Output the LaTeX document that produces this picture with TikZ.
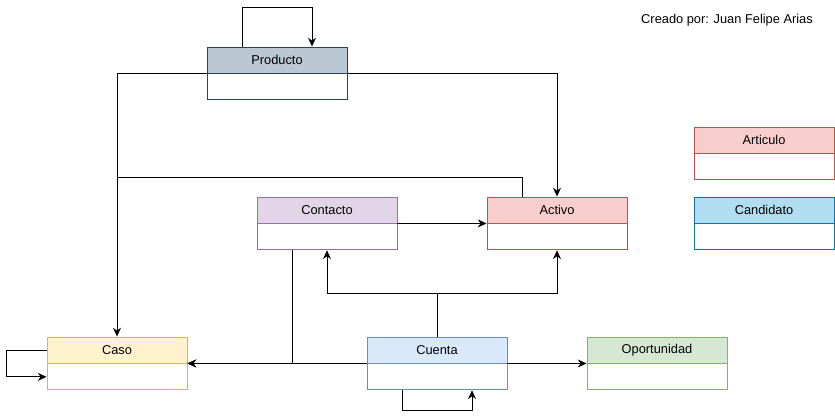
\documentclass[tikz,border=0pt]{standalone}
\usepackage{fontspec}
\setmainfont{Liberation Sans}
\usepackage{xcolor}
\usetikzlibrary{positioning,arrows.meta}

\definecolor{prodfill}{HTML}{BAC8D3}\definecolor{proddraw}{HTML}{23445D}
\definecolor{contfill}{HTML}{E1D5E7}\definecolor{contdraw}{HTML}{9673A6}
\definecolor{actfill}{HTML}{F8CECC}\definecolor{actdraw}{HTML}{B85450}
\definecolor{candfill}{HTML}{B1DDF0}\definecolor{canddraw}{HTML}{10739E}
\definecolor{casofill}{HTML}{FFF2CC}\definecolor{casodraw}{HTML}{D6B656}
\definecolor{ctafill}{HTML}{DAE8FC}\definecolor{ctadraw}{HTML}{6C8EBF}
\definecolor{opofill}{HTML}{D5E8D4}\definecolor{opodraw}{HTML}{82B366}

\begin{document}
\begin{tikzpicture}[x=0.02cm, y=-0.02cm,
    font=\fontsize{7.3}{8.5}\selectfont,
    header/.style={draw=#1draw, fill=#1fill, line width=0.5pt,
        minimum width=2.8cm, minimum height=0.52cm, inner sep=0pt},
    body/.style={draw=#1draw, fill=white, line width=0.5pt,
        minimum width=2.8cm, minimum height=0.52cm, inner sep=0pt},
    arr/.style={line width=0.5pt, -{Stealth[length=5pt,width=4.5pt]}},
    line/.style={line width=0.5pt}]
    \useasboundingbox (0,0) rectangle (835,418);

    \node[header=prod] (prod) at (277,60) {Producto};
    \node[body=prod, below=0pt of prod] (prodb) {};
    \node[header=cont] (cont) at (327,210) {Contacto};
    \node[body=cont, below=0pt of cont] (contb) {};
    \node[header=act] (act) at (557,210) {Activo};
    \node[body=act, below=0pt of act] (actb) {};
    \node[header=act] (art) at (764,140) {Articulo};
    \node[body=act, below=0pt of art] (artb) {};
    \node[header=cand] (cand) at (764,210) {Candidato};
    \node[body=cand, below=0pt of cand] (candb) {};
    \node[header=caso] (caso) at (117,350) {Caso};
    \node[body=caso, below=0pt of caso] (casob) {};
    \node[header=cta] (cta) at (437,350) {Cuenta};
    \node[body=cta, below=0pt of cta] (ctab) {};
    \node[header=opo] (opo) at (657,350) {Oportunidad};
    \node[body=opo, below=0pt of opo] (opob) {};

    \node (autor) at (727,20) {Creado por: Juan Felipe Arias};

    \coordinate (join) at (117,177);
    \coordinate (split) at (437,293);

    % Producto
    \draw[arr] ([xshift=-0.7cm]prod.north) -- ++(0,0.78cm) -| ([xshift=0.7cm]prod.north);
    \draw[arr] (prod.south west) -| (caso.north);
    \draw[arr] (prod.south east) -| (act.north);
    \draw[line] ([xshift=-0.7cm]act.north) |- (join);

    % Contacto
    \draw[arr] (cont.south east) -- (act.south west);
    \draw[arr] ([xshift=-0.7cm]contb.south) |- (caso.south east);

    % Cuenta
    \draw[line] (cta.north) -- (split);
    \draw[arr] (split) -| (contb.south);
    \draw[arr] (split) -| (actb.south);
    \draw[arr] (cta.south west) -- (caso.south east);
    \draw[arr] (cta.south east) -- (opo.south west);
    \draw[arr] ([xshift=-0.7cm]ctab.south) -- ++(0,-0.4cm) -| ([xshift=0.7cm]ctab.south);

    % Caso
    \draw[arr] (caso.west) -- ++(-0.8cm,0) |- (casob.west);
\end{tikzpicture}
\end{document}
